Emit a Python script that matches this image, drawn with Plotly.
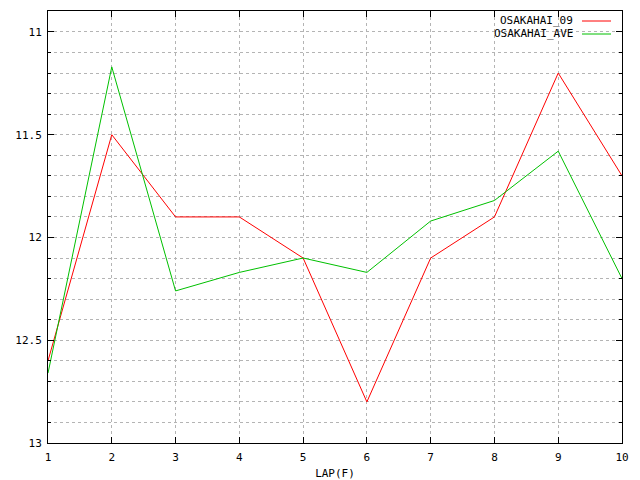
import plotly.graph_objects as go

laps = [1, 2, 3, 4, 5, 6, 7, 8, 9, 10]
osakahai_09 = [12.6, 11.5, 11.9, 11.9, 12.1, 12.8, 12.1, 11.9, 11.2, 11.7]
osakahai_ave = [12.66, 11.17, 12.26, 12.17, 12.1, 12.17, 11.92, 11.82, 11.58, 12.2]
series_names = ["OSAKAHAI_09", "OSAKAHAI_AVE"]
series_colors = ["#ff0000", "#00c000"]
y_ticks = [11, 11.5, 12, 12.5, 13]

FONT = "DejaVu Sans Mono"
GRID = "#b4b4b4"

fig = go.Figure()
for name, vals, col in zip(series_names, [osakahai_09, osakahai_ave], series_colors):
    fig.add_trace(go.Scatter(x=laps, y=vals, mode="lines", name=name,
                             line=dict(color=col, width=1), showlegend=False))

axis_common = dict(
    showline=True, linecolor="black", linewidth=1, mirror="ticks",
    ticks="inside", ticklen=6, tickcolor="black", tickwidth=1,
    showgrid=True, gridcolor=GRID, griddash="3px,3px", gridwidth=1,
    zeroline=False, tickfont=dict(family=FONT, size=11, color="black"),
)

fig.update_xaxes(range=[1, 10], tickvals=laps, ticklabelstandoff=4, **axis_common,
                 title=dict(text="LAP(F)", font=dict(family=FONT, size=11, color="black"), standoff=10))
fig.update_yaxes(range=[13, 10.898], tickvals=y_ticks, ticktext=[f"{v:g}" for v in y_ticks],
                 ticklabelstandoff=3,
                 minor=dict(dtick=0.1, tick0=11, ticks="inside", ticklen=3, tickcolor="black",
                            showgrid=True, gridcolor=GRID, griddash="3px,3px", gridwidth=1),
                 **axis_common)

# gnuplot-style legend: right-aligned text with line sample on the right
for i, (name, col) in enumerate(zip(series_names, series_colors)):
    ypix = 21 + 13 * i
    yp = 1 - (ypix - 11) / 432.0
    fig.add_annotation(x=(575 - 48) / 574.0, y=yp, xref="paper", yref="paper",
                       text=name, showarrow=False, xanchor="right", yanchor="middle",
                       font=dict(family=FONT, size=11, color="black"))
    fig.add_shape(type="line", xref="paper", yref="paper",
                  x0=(582 - 48) / 574.0, x1=(611 - 48) / 574.0, y0=yp, y1=yp,
                  line=dict(color=col, width=1))

# page body adds an 8px margin, so the figure is sized and offset to compensate
fig.update_layout(
    width=632, height=472,
    margin=dict(l=40, r=18, t=3, b=37, autoexpand=False),
    plot_bgcolor="white", paper_bgcolor="white",
    font=dict(family=FONT, size=11, color="black"),
)

fig.write_html("out.html")
